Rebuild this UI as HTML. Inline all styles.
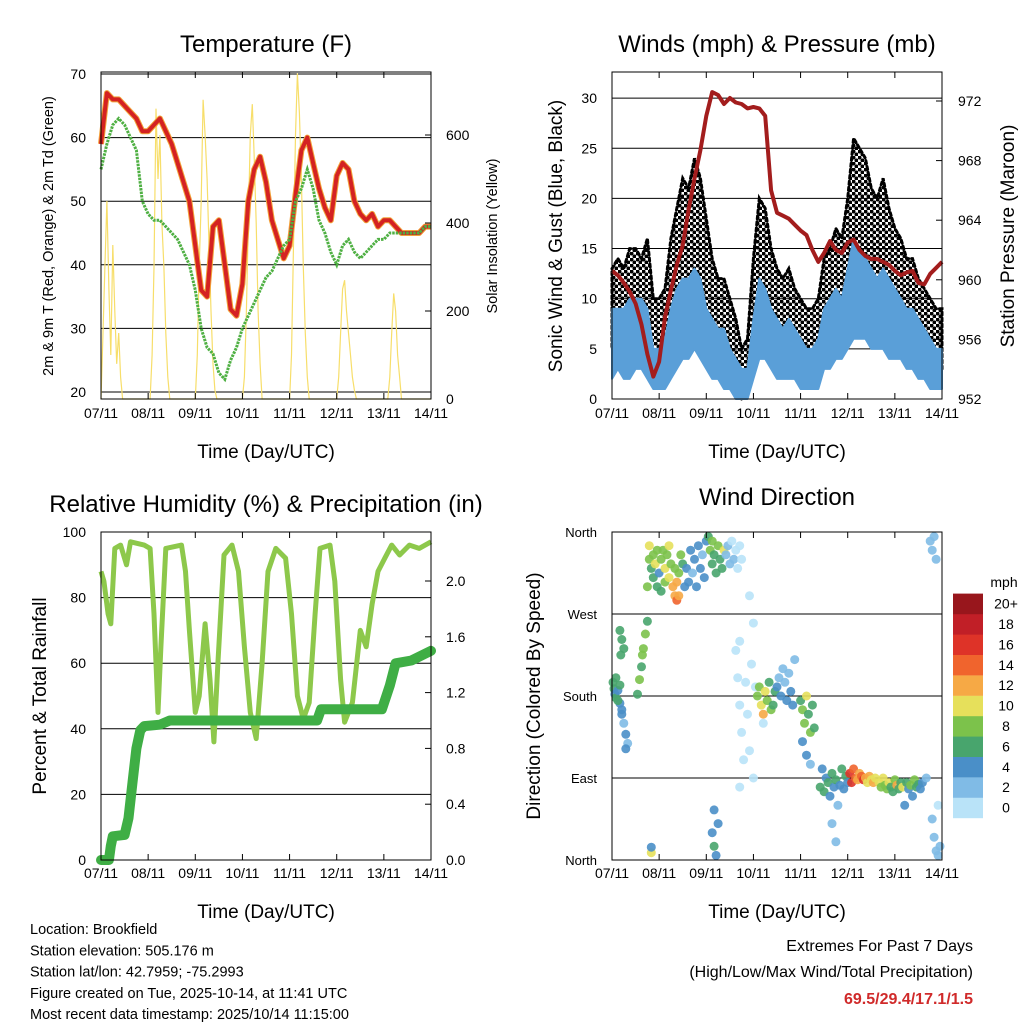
<!DOCTYPE html>
<html><head><meta charset="utf-8"><style>
html,body{margin:0;padding:0;background:#fff}
svg{display:block;font-family:"Liberation Sans",sans-serif}
</style></head><body>
<svg id="s" width="1024" height="1024" viewBox="0 0 1024 1024" xmlns="http://www.w3.org/2000/svg">
<defs><pattern id="dots" width="6" height="6" patternUnits="userSpaceOnUse"><circle cx="1.5" cy="1.5" r="2" fill="#000"/><circle cx="4.5" cy="4.5" r="2" fill="#000"/></pattern></defs>
</svg>
<script>
// ---------- DATA ----------
const dayLabels=["07/11","08/11","09/11","10/11","11/11","12/11","13/11","14/11"];
const hours3=[0,3,6,9,12,15,18,21,24,27,30,33,36,39,42,45,48,51,54,57,60,63,66,69,72,75,78,81,84,87,90,93,96,99,102,105,108,111,114,117,120,123,126,129,132,135,138,141,144,147,150,153,156,159,162,165,168];
const tempRed=[59,67,66,66,65,64,63,61,61,62,63,61,59,56,53,50,43,36,35,46,47,40,33,32,37,50,55,57,53,47,44,41,43,51,58,60,56,52,49,47,54,56,55,50,48,47,48,46,47,47,46,45,45,45,45,46,46];
const dewGreen=[55,59,62,63,62,60,58,50,48,47,47,46,45,44,42,40,36,30,27,26,23,22,25,27,30,32,34,36,38,39,41,43,44,50,52,55,52,47,45,42,40,43,44,42,41,42,43,44,44,45,45,45,45,45,45,46,46];
const solar=[0,150,300,450,250,100,350,200,80,150,50,0,0,0,0,0,0,0,0,0,0,0,0,0,
0,0,100,300,660,500,600,400,300,150,50,0,0,0,0,0,0,0,0,0,0,0,0,0,
0,100,300,450,680,600,500,350,200,80,20,0,0,0,0,0,0,0,0,0,0,0,0,0,
0,50,200,400,600,670,550,400,200,80,0,0,0,0,0,0,0,0,0,0,0,0,0,0,
0,100,350,600,740,650,500,300,150,50,0,0,0,0,0,0,0,0,0,0,0,0,0,0,
0,50,150,250,270,200,150,100,50,20,0,0,0,0,0,0,0,0,0,0,0,0,0,0,
0,0,0,50,150,240,200,100,50,0,0,0,0,0,0,0,0,0,0,0,0,0,0,0,0];
const pressure=[960.6,960.3,959.8,959.2,958.4,957,955,953.5,954.5,957.5,959.3,961,962.3,964.7,966.8,968.7,971,972.6,972.4,971.8,972.2,971.9,971.8,971.5,971.6,971.5,971,966,964.5,964.3,964.1,963.7,963.3,963,962,961.2,961.8,962.6,962,961.8,962.5,962.7,962,961.6,961.4,961.4,961.2,961,960.6,960.3,960.5,960.6,959.8,959.7,960.4,960.8,961.2];
const gustLo=[5,6,6,5,7,6,6,4,3,4,6,8,9,10,11,10,8,5,4,3,2,1,0,1,3,8,8,6,5,4,5,4,3,4,3,3,6,7,8,8,10,12,13,12,12,10,10,9,8,8,7,6,5,4,3,2,3];
const gustHi=[13,14,13,15,15,14,16,10,10,11,16,19,22,21,24,22,18,14,12,12,10,8,5,6,14,20,19,15,13,12,13,11,10,9,9,10,14,15,17,16,20,26,25,24,21,20,22,19,17,16,14,14,12,11,10,9,9];
const windLo=[2,3,2,2,3,3,2,1,1,1,2,3,4,4,5,4,3,2,2,1,1,0,0,0,2,4,4,3,2,2,2,2,1,1,1,1,3,3,4,4,5,6,6,6,5,5,5,4,4,4,3,3,2,2,1,1,1];
const windHi=[9,9,9,10,10,10,9,5,5,6,9,11,12,12,13,12,9,8,7,7,5,4,3,3,8,12,11,9,8,7,8,7,6,5,5,6,9,10,11,10,13,16,15,14,13,12,13,12,11,10,9,9,8,7,6,5,5];
const rhHours=[0,1.5,3.6,5,7,10,13,15,22,25,27,29,30.5,33,41,43,45,48,50,53,55.5,57.5,59.5,62.6,66.7,70,73,76,79,82,85,89,94,97,100,103,106,109,111.5,116.6,119,122,124,128,132,135,138,141,144.5,148,152,157,162,168];
const rhVals=[88,85,75,72,95,96,90,97,96,95,75,45,65,95,96,88,70,45,50,72,55,36,60,93,96,88,65,45,37,60,88,95,92,75,50,43,48,75,95,96,85,55,42,48,70,65,78,88,92,96,93,96,95,97];
const rainHours=[0,4,5,6,12,14,16,18,20,22,30,35,110,112,143,147,150,158,168];
const rainVals=[0,0,0.1,0.17,0.18,0.3,0.55,0.8,0.93,0.96,0.97,1.0,1.0,1.08,1.08,1.25,1.41,1.43,1.5];
const dirHours=[0.5,1,1.5,2,3,4,5,6,7,8,3,5,7,2,4,4,5,6,4.5,13,14,15,16,17,18,15.5,18,19,19,20,21,21,22,23,23,24,25,25,26,27,27,28,29,29,30,31,32,32,33,33,34,34,35,36,37,38,39,40,41,42,43,44,45,46,47,48,49,50,51,51,52,53,54,55,56,57,58,59,60,61,62,63,64,65,66,63,64,65,66,67,65,68,69,70,72,73,72,71,74,75,76,77,78,79,80,81,82,83,84,85,86,87,88,89,90,91,92,93,96,97,98,99,100,101,102,103,97,99,101,106,107,108,109,110,111,112,113,114,115,116,117,118,119,120,112,114,121,122,123,124,125,126,127,128,129,130,131,132,133,134,136,137,138,139,140,141,142,143,144,145,146,147,148,149,150,151,152,153,154,155,156,157,158,160,162,163,164,165,163,164,165,166,167,166,20,20,51,52,53,54,52,65,77,70];
const dirVals=[195,188,182,178,186,172,160,150,138,128,175,165,122,200,192,252,242,232,225,182,198,212,232,248,262,225,300,330,345,320,310,335,325,300,340,315,330,295,340,320,305,335,310,345,325,300,290,320,285,305,290,315,335,325,300,320,305,340,315,330,300,345,320,335,310,350,355,340,325,350,335,315,345,330,320,340,335,345,325,350,330,340,320,345,330,230,200,170,140,110,80,195,160,120,90,190,260,215,180,190,170,160,185,175,195,165,170,185,190,200,180,210,195,175,205,185,170,220,175,165,150,180,160,140,170,145,130,115,105,80,100,75,90,85,70,95,80,88,60,82,100,78,92,85,40,20,95,85,100,90,88,95,92,88,90,85,92,88,85,90,85,80,90,82,78,85,80,75,88,82,78,85,80,60,85,78,82,70,88,80,83,78,85,90,350,340,355,330,45,25,10,5,15,60,8,14,30,15,5,40,55,240,150,290];
const dirSpeeds=[6,7,5,6,4,5,4,3,4,3,6,4,4,6,7,6,7,6,7,7,8,7,8,8,6,9,9,8,10,7,6,9,10,7,8,5,9,7,8,10,8,9,11,10,8,12,13,9,14,12,12,9,8,6,5,4,4,4,3,4,5,4,4,3,4,4,7,8,6,9,7,6,8,6,7,10,3,2,3,1,2,1,1,1,1,1,1,1,1,1,1,1,1,1,1,1,1,1,8,9,10,12,10,8,7,9,6,7,4,3,4,2,3,4,3,5,4,2,7,8,9,10,7,8,6,7,4,4,3,6,5,6,4,6,5,6,4,6,3,5,6,5,6,5,2,2,16,17,15,14,13,12,15,16,12,11,12,11,12,10,10,9,10,8,9,10,7,6,8,12,7,6,10,4,7,5,8,4,9,7,6,5,4,3,3,2,3,3,2,2,2,3,2,1,10,4,4,6,4,5,4,1,1,1];
const speedBins=["0","2","4","6","8","10","12","14","16","18","20+"];
const binColors=["#b9e3f8","#80bbe6","#4a8fc8","#48a56d","#7cc24b","#e6e05b","#f6a945","#f0642d","#de3328","#c11f27","#98161c"];
// ---------- HELPERS ----------
const S=document.getElementById('s');const NS="http://www.w3.org/2000/svg";
function mk(t,a,txt){const e=document.createElementNS(NS,t);for(const k in a)e.setAttribute(k,a[k]);if(txt!==undefined)e.textContent=txt;S.appendChild(e);return e;}
function txt(x,y,s,size,anchor,extra){const e=mk('text',Object.assign({x:x,y:y,'font-size':size,'text-anchor':anchor||'middle',fill:'#000'},extra||{}),s);return e;}
function line(pts,fx,fy,attrs){return mk('polyline',Object.assign({points:pts.map(p=>fx(p[0]).toFixed(1)+','+fy(p[1]).toFixed(1)).join(' '),fill:'none'},attrs));}
function zip(a,b){return a.map((v,i)=>[v,b[i]]);}
function frame(x0,y0,x1,y1,name){const r=mk('rect',{x:x0,y:y0,width:x1-x0,height:y1-y0,fill:'none',stroke:'#000','stroke-width':1});}
function xAxis(x0,x1,yb,yt,labY,titleY){const cx=(x0+x1)/2;dayLabels.forEach((d,i)=>{const x=x0+i*(x1-x0)/7;mk('line',{x1:x,y1:yb,x2:x,y2:yb-6,stroke:'#000'});mk('line',{x1:x,y1:yt,x2:x,y2:yt+6,stroke:'#000'});const t=txt(x,labY,d,14);});
const t=txt(cx,titleY,'Time (Day/UTC)',19);}
function hgrid(x0,x1,y){mk('line',{x1:x0,y1:y,x2:x1,y2:y,stroke:'#000','stroke-width':1});}
function title(x,y,s,name){const t=txt(x,y,s,24);}
function vtitle(x,y,s,size,name){const t=txt(x,y,s,size,'middle',{transform:'rotate(-90 '+x+' '+y+')'});}
// ---------- PANEL 1 ----------
{const X=h=>101+h/168*330,Y=v=>392-(v-20)*6.36,YS=v=>399-v*0.44;
[20,30,40,50,60,70].forEach(v=>{hgrid(101,431,Y(v));const t=txt(86,Y(v)+5,String(v),14,'end');});
[0,200,400,600].forEach(v=>{mk('line',{x1:431,y1:YS(v),x2:425,y2:YS(v),stroke:'#000'});const t=txt(446,YS(v)+5,String(v),14,'start');});
const sol=solar.map((v,i)=>[i,v]);const sl=line(sol,X,YS,{stroke:'#f7de6a','stroke-width':1.2});
const o=line(zip(hours3,tempRed),X,Y,{stroke:'#f2a33a','stroke-width':6,'stroke-linejoin':'round'});
const r=line(zip(hours3,tempRed),X,Y,{stroke:'#d42222','stroke-width':4,'stroke-linejoin':'round'});
const g=line(zip(hours3,dewGreen),X,Y,{stroke:'#4fb043','stroke-width':3,'stroke-dasharray':'2.5 1'});
frame(101,72,431,399,'temperature-plot-area');xAxis(101,431,399,72,418,458);
title(266,52,'Temperature (F)','temperature-title');
vtitle(53,236,'2m & 9m T (Red, Orange) & 2m Td (Green)',14.5,'temperature-y-axis-title');
vtitle(497,236,'Solar Insolation (Yellow)',14.5,'solar-y-axis-title');}
// ---------- PANEL 2 ----------
{const X=h=>612+h/168*330,Y=v=>399-v*10.03,YP=p=>399-(p-952)*14.9;
[0,5,10,15,20,25,30].forEach(v=>{hgrid(612,942,Y(v));const t=txt(597,Y(v)+5,String(v),14,'end');});
[952,956,960,964,968,972].forEach(v=>{mk('line',{x1:942,y1:YP(v),x2:936,y2:YP(v),stroke:'#000'});const t=txt(958,YP(v)+5,String(v),14,'start');});
const gp=hours3.map((h,i)=>X(h).toFixed(1)+','+Y(gustHi[i]).toFixed(1)).concat(hours3.map((h,i)=>X(h).toFixed(1)+','+Y(gustLo[i]).toFixed(1)).reverse());
const ga=mk('polygon',{points:gp.join(' '),fill:'url(#dots)',stroke:'#000','stroke-width':3,'stroke-dasharray':'3 3','stroke-linecap':'round'});
const wp=hours3.map((h,i)=>X(h).toFixed(1)+','+Y(windHi[i]).toFixed(1)).concat(hours3.map((h,i)=>X(h).toFixed(1)+','+Y(windLo[i]).toFixed(1)).reverse());
const wa=mk('polygon',{points:wp.join(' '),fill:'#5a9fd8',stroke:'#5a9fd8','stroke-width':2,'stroke-linejoin':'round'});
const pl=line(zip(hours3,pressure),X,YP,{stroke:'#a31d1d','stroke-width':4,'stroke-linejoin':'round'});
frame(612,72,942,399,'winds-plot-area');xAxis(612,942,399,72,418,458);
title(777,52,'Winds (mph) & Pressure (mb)','winds-title');
vtitle(562,236,'Sonic Wind & Gust (Blue, Black)',19,'winds-y-axis-title');
vtitle(1014,236,'Station Pressure (Maroon)',19,'pressure-y-axis-title');}
// ---------- PANEL 3 ----------
{const X=h=>101+h/168*330,Y=v=>860-v*3.28,YR=v=>860-v*139.5;
[0,20,40,60,80,100].forEach(v=>{hgrid(101,431,Y(v));const t=txt(86,Y(v)+5,String(v),14,'end');});
[0,0.4,0.8,1.2,1.6,2.0].forEach(v=>{mk('line',{x1:431,y1:YR(v),x2:425,y2:YR(v),stroke:'#000'});const t=txt(446,YR(v)+5,v.toFixed(1),14,'start');});
const rl=line(zip(rhHours,rhVals),X,Y,{stroke:'#8dc84b','stroke-width':5,'stroke-linejoin':'round'});
const pl=line(zip(rainHours,rainVals),X,YR,{stroke:'#3fae45','stroke-width':10,'stroke-linejoin':'round','stroke-linecap':'round'});
frame(101,532,431,860,'humidity-plot-area');xAxis(101,431,860,532,878,918);
title(266,512,'Relative Humidity (%) & Precipitation (in)','humidity-title');
vtitle(46,696,'Percent & Total Rainfall',19,'humidity-y-axis-title');}
// ---------- PANEL 4 ----------
{const X=h=>612+h/168*330,Y=d=>860-d*328/360;
const dl=["North","East","South","West","North"];
[0,90,180,270,360].forEach((d,i)=>{hgrid(612,942,Y(d));const t=txt(597,Y(d)+5,dl[i],13,'end');});
dirHours.forEach((h,i)=>{const s=dirSpeeds[i];const b=Math.min(10,Math.floor(s/2));
const c=mk('circle',{cx:X(h).toFixed(1),cy:Y(dirVals[i]).toFixed(1),r:4.5,fill:binColors[b],'fill-opacity':0.9});

});
frame(612,532,942,860,'wind-direction-plot-area');xAxis(612,942,860,532,878,918);
title(777,505,'Wind Direction','wind-direction-title');
vtitle(540,696,'Direction (Colored By Speed)',19,'wind-direction-y-axis-title');
const m=txt(1004,587,'mph',14);
speedBins.forEach((lab,i)=>{const y=818-(i+1)*20.4;const r=mk('rect',{x:953,y:y.toFixed(1),width:30,height:20.6,fill:binColors[i]});
const t=txt(1006,y+15,lab,14);});}
// ---------- FOOTER ----------
["Location: Brookfield","Station elevation: 505.176 m","Station lat/lon: 42.7959; -75.2993","Figure created on Tue, 2025-10-14, at 11:41 UTC","Most recent data timestamp: 2025/10/14 11:15:00"].forEach((s,i)=>{const t=txt(30,934+i*21.3,s,14.5,'start');});
{let t=txt(973,951,'Extremes For Past 7 Days',16,'end');
t=txt(973,977,'(High/Low/Max Wind/Total Precipitation)',16,'end');
t=txt(973,1004,'69.5/29.4/17.1/1.5',16,'end',{fill:'#d02a2a','font-weight':'bold'});}
</script>
</body></html>
